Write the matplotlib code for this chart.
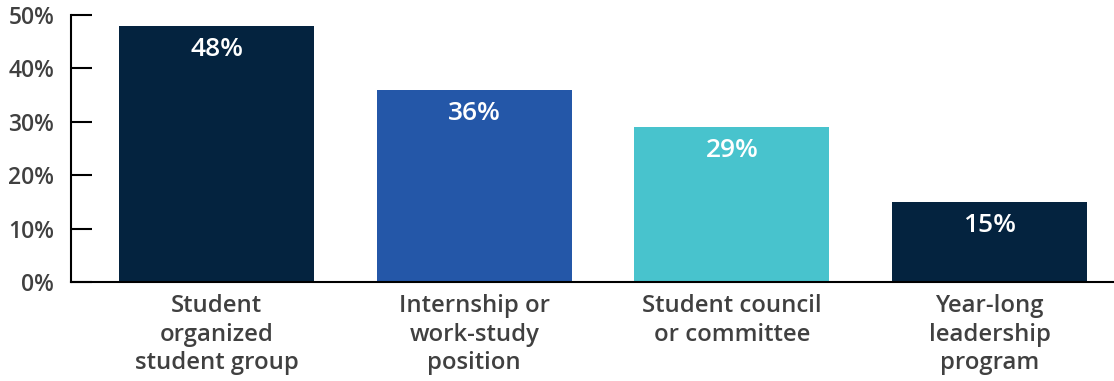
import matplotlib.pyplot as plt
from matplotlib.ticker import FuncFormatter

categories = [
    "Student\norganized\nstudent group",
    "Internship or\nwork-study\nposition",
    "Student council\nor committee",
    "Year-long\nleadership\nprogram",
]
values = [48, 36, 29, 15]
colors = ["#04233F", "#2457A8", "#48C3CD", "#04233F"]

plt.rcParams["font.family"] = ["Open Sans", "DejaVu Sans"]

fig = plt.figure(figsize=(11.14, 3.81), dpi=100)
ax = fig.add_axes([0.0637, 0.26, 0.9363, 0.7006])

x = range(len(values))
bars = ax.bar(x, values, width=0.757, color=colors)

for b, v in zip(bars, values):
    ax.text(b.get_x() + b.get_width() / 2, v - 2.1, f"{v}%", ha="center", va="top",
            color="white", fontsize=19, fontweight="semibold")

ax.set_xlim(-0.565, 3.483)
ax.set_ylim(0, 50)
ax.set_yticks(range(0, 51, 10))
ax.yaxis.set_major_formatter(FuncFormatter(lambda v, p: f"{int(v)}%"))

ax.set_xticks(list(x))
ax.set_xticklabels(categories, fontsize=17.2, fontweight="semibold", color="#404040",
                   linespacing=1.25)
ax.tick_params(axis="x", length=0, pad=9)
ax.tick_params(axis="y", direction="in", length=15, width=1.5, color="black",
               labelsize=16.5, labelcolor="#404040", pad=12)
for lab in ax.get_yticklabels():
    lab.set_fontweight("semibold")

for s in ["top", "right"]:
    ax.spines[s].set_visible(False)
ax.spines["left"].set_linewidth(1.5)
ax.spines["bottom"].set_linewidth(1.5)

fig.savefig("out.png", dpi=100)
